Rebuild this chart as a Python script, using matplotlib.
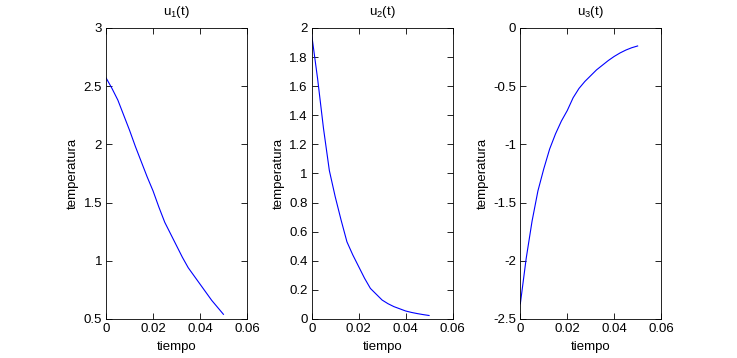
import matplotlib as mpl
mpl.use('Agg')
import matplotlib.pyplot as plt
import numpy as np

# time samples and the three solution components
t = np.linspace(0, 0.05, 21)
u1 = [2.57, 2.48, 2.38, 2.25, 2.12, 1.98, 1.85, 1.72, 1.60, 1.46, 1.33,
      1.23, 1.13, 1.03, 0.94, 0.87, 0.80, 0.73, 0.66, 0.60, 0.54]
u2 = [1.95, 1.65, 1.31, 1.02, 0.84, 0.68, 0.53, 0.44, 0.36, 0.28, 0.21,
      0.17, 0.13, 0.105, 0.085, 0.07, 0.055, 0.045, 0.037, 0.03, 0.024]
u3 = [-2.37, -1.98, -1.66, -1.40, -1.21, -1.04, -0.91, -0.80, -0.71, -0.60, -0.52,
      -0.46, -0.41, -0.36, -0.32, -0.28, -0.245, -0.215, -0.19, -0.17, -0.155]

titles = ['u$_1$(t)', 'u$_2$(t)', 'u$_3$(t)']
ylims = [(0.5, 3), (0, 2), (-2.5, 0)]
yticks = [np.arange(0.5, 3.01, 0.5), np.arange(0, 2.01, 0.2), np.arange(-2.5, 0.01, 0.5)]
xticks = [0, 0.02, 0.04, 0.06]

plt.rcParams['font.family'] = ['Liberation Sans', 'DejaVu Sans']
plt.rcParams['mathtext.fontset'] = 'custom'
plt.rcParams['mathtext.rm'] = 'Liberation Sans'
plt.rcParams['mathtext.default'] = 'regular'
plt.rcParams['font.size'] = 9.5

fig = plt.figure(figsize=(7.37, 3.58), dpi=100)
lefts = [0.144, 0.423, 0.706]
width = 0.191
bottom, height = 0.109, 0.813

for i, u in enumerate([u1, u2, u3]):
    ax = fig.add_axes([lefts[i], bottom, width, height])
    ax.plot(t, u, color='blue', linewidth=0.8)
    ax.set_xlim(0, 0.06)
    ax.set_ylim(*ylims[i])
    ax.set_xticks(xticks)
    ax.set_xticklabels(['0', '0.02', '0.04', '0.06'])
    ax.set_yticks(yticks[i])
    ax.set_yticklabels(['%g' % round(v, 2) for v in yticks[i]])
    ax.tick_params(direction='in', top=True, right=True, length=4, width=0.6, pad=3)
    for s in ax.spines.values():
        s.set_linewidth(0.6)
    ax.set_title(titles[i], fontsize=9.5, pad=9)
    ax.set_xlabel('tiempo', labelpad=4)
    ax.set_ylabel('temperatura', labelpad=3)

fig.savefig('out.png', dpi=100)
